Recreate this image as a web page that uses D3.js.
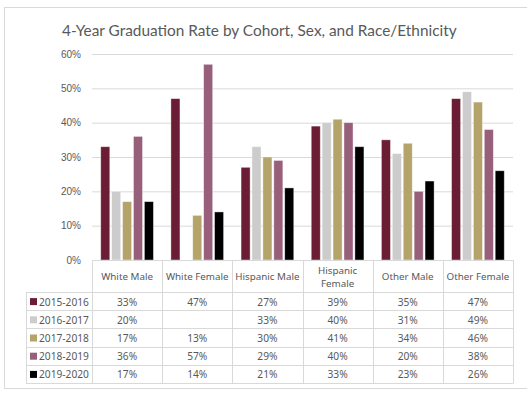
<!DOCTYPE html>
<html>
<head>
<meta charset="utf-8">
<script src="https://cdn.jsdelivr.net/npm/d3@7"></script>
<style>
  body { margin: 0; background: #fff; }
  svg { display: block; }
  .tick text { fill: #595959; }
</style>
</head>
<body>
<svg width="527" height="394"></svg>
<script>
var categories = ['White Male', 'White Female', 'Hispanic Male', 'Hispanic Female', 'Other Male', 'Other Female'];
var headerLines = [['White Male'], ['White Female'], ['Hispanic Male'], ['Hispanic', 'Female'], ['Other Male'], ['Other Female']];
var cohorts = ['2015-2016', '2016-2017', '2017-2018', '2018-2019', '2019-2020'];
var colors = ['#6b1d35', '#cccccc', '#b5a46a', '#985f7b', '#000000'];
var rate2015 = [33, 47, 27, 39, 35, 47];
var rate2016 = [20, null, 33, 40, 31, 49];
var rate2017 = [17, 13, 30, 41, 34, 46];
var rate2018 = [36, 57, 29, 40, 20, 38];
var rate2019 = [17, 14, 21, 33, 23, 26];
var yTicks = [0, 10, 20, 30, 40, 50, 60];

var series = [rate2015, rate2016, rate2017, rate2018, rate2019];

(function () {
var svg = d3.select('svg'),
    plotL = 92, plotR = 513, plotT = 54, plotB = 260,
    tableLeft = 26, headerBottom = 292, rowH = 18.2,
    grid = '#d9d9d9', textCol = '#595959';

// outer frame
svg.append('rect')
    .attr('x', 4.5).attr('y', 7.5)
    .attr('width', 540).attr('height', 381)
    .attr('fill', 'none').attr('stroke', grid);

svg.append('text')
    .attr('x', 62).attr('y', 36)
    .attr('font-family', 'Lato, sans-serif')
    .attr('font-size', 15.4)
    .attr('fill', textCol)
    .text('4-Year Graduation Rate by Cohort, Sex, and Race/Ethnicity');

var y = d3.scaleLinear().domain([0, 60]).range([plotB, plotT]);
var x0 = d3.scaleBand().domain(categories).range([plotL, plotR]);
var x1 = d3.scaleBand().domain(cohorts).range([0, x0.bandwidth()])
    .paddingInner(0.17).paddingOuter(0.8);

// gridlines + y axis labels
var yAxis = d3.axisLeft(y).tickValues(yTicks)
    .tickSize(-(plotR - plotL)).tickPadding(11)
    .tickFormat(function (d) { return d + '%'; });
var ga = svg.append('g').attr('transform', 'translate(' + plotL + ',0)').call(yAxis);
ga.select('.domain').remove();
ga.selectAll('.tick line').attr('stroke', grid);
ga.selectAll('.tick text')
    .attr('font-family', '"Liberation Sans", Arial, sans-serif')
    .attr('font-size', 10);

// bars
var groups = svg.append('g').selectAll('g')
    .data(categories)
    .join('g')
    .attr('transform', function (d) { return 'translate(' + x0(d) + ',0)'; });

groups.selectAll('rect')
    .data(function (c, i) {
        return cohorts.map(function (k, j) { return {cohort: k, idx: j, v: series[j][i]}; })
            .filter(function (d) { return d.v != null; });
    })
    .join('rect')
    .attr('x', function (d) { return x1(d.cohort); })
    .attr('y', function (d) { return y(d.v); })
    .attr('width', x1.bandwidth())
    .attr('height', function (d) { return plotB - y(d.v); })
    .attr('fill', function (d) { return colors[d.idx]; })
    .attr('stroke', '#ffffff')
    .attr('stroke-opacity', 0.5)
    .attr('stroke-width', 0.8);

// data table
var tbl = svg.append('g');
var tableBottom = headerBottom + rowH * cohorts.length;

tbl.append('line')
    .attr('x1', plotL).attr('x2', plotR)
    .attr('y1', plotB + 0.5).attr('y2', plotB + 0.5)
    .attr('stroke', grid);

d3.range(cohorts.length + 1).forEach(function (r) {
    var yy = Math.round(headerBottom + r * rowH) + 0.5;
    tbl.append('line')
        .attr('x1', tableLeft).attr('x2', plotR)
        .attr('y1', yy).attr('y2', yy)
        .attr('stroke', grid);
});

tbl.append('line')
    .attr('x1', tableLeft + 0.5).attr('x2', tableLeft + 0.5)
    .attr('y1', headerBottom).attr('y2', tableBottom + 0.5)
    .attr('stroke', grid);

x0.domain().concat(['end']).forEach(function (c) {
    var xx = Math.round(c === 'end' ? plotR : x0(c)) + 0.5;
    tbl.append('line')
        .attr('x1', xx).attr('x2', xx)
        .attr('y1', plotB).attr('y2', tableBottom + 0.5)
        .attr('stroke', grid);
});

var tfont = '"Noto Sans", sans-serif';

// header labels
categories.forEach(function (c, i) {
    var lines = headerLines[i];
    var t = tbl.append('text')
        .attr('x', x0(c) + x0.bandwidth() / 2)
        .attr('y', 276 - (lines.length - 1) * 6.5)
        .attr('text-anchor', 'middle')
        .attr('dominant-baseline', 'central')
        .attr('font-family', tfont)
        .attr('font-size', 9.8)
        .attr('fill', textCol);
    lines.forEach(function (l, k) {
        t.append('tspan')
            .attr('x', x0(c) + x0.bandwidth() / 2)
            .attr('dy', k === 0 ? 0 : 13)
            .text(l);
    });
});

// rows
cohorts.forEach(function (k, j) {
    var cy = headerBottom + j * rowH + rowH / 2 + 0.5;
    tbl.append('rect')
        .attr('x', 30).attr('y', cy - 3.5)
        .attr('width', 7).attr('height', 7)
        .attr('fill', colors[j]);
    tbl.append('text')
        .attr('x', 39).attr('y', cy)
        .attr('dominant-baseline', 'central')
        .attr('font-family', tfont)
        .attr('font-size', 10.2)
        .attr('fill', textCol)
        .text(k);
    categories.forEach(function (c, i) {
        var v = series[j][i];
        if (v == null) return;
        tbl.append('text')
            .attr('x', x0(c) + x0.bandwidth() / 2)
            .attr('y', cy)
            .attr('text-anchor', 'middle')
            .attr('dominant-baseline', 'central')
            .attr('font-family', tfont)
            .attr('font-size', 10.2)
            .attr('fill', textCol)
            .text(v + '%');
    });
});
})();
</script>
</body>
</html>
